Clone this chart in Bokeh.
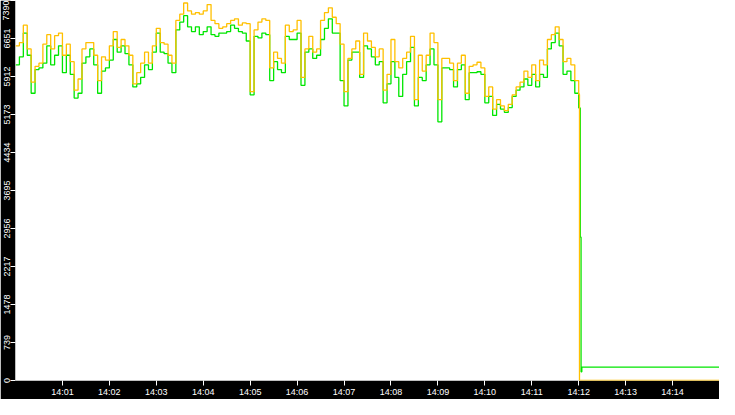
import pandas as pd
from bokeh.plotting import figure, ColumnDataSource
from bokeh.models import Range1d, FixedTicker, DatetimeTickFormatter
from bokeh.embed import file_html
from bokeh.resources import INLINE

day = "2024-01-01 "

# price every 5 seconds from 14:00:00 to 14:12:00
ask = [
    6509, 6571, 6910, 6448, 5801, 6109, 6171, 6540, 6725, 6448,
    6706, 6756, 6325, 6540, 6201, 5647, 5863, 6448, 6571, 6571,
    6325, 5832, 6294, 6232, 6509, 6786, 6478, 6632, 6509, 6325,
    5770, 5986, 6171, 6386, 6171, 6509, 6848, 6571, 6540, 6325,
    6171, 7002, 7125, 7341, 7187, 7125, 7156, 7125, 7187, 7310,
    7002, 6940, 6848, 6879, 6940, 7002, 7033, 6910, 6953, 6940,
    5616, 6817, 6971, 7033, 7002, 6078, 6386, 6263, 6171, 6910,
    6786, 6817, 7002, 5894, 6448, 6694, 6386, 6448, 7002, 7156,
    7248, 7064, 6940, 6540, 5616, 6263, 6448, 6602, 5955, 6756,
    6602, 6478, 6294, 6448, 5647, 5955, 6632, 6201, 6078, 6263,
    6386, 6694, 5462, 6325, 6017, 6325, 6756, 6571, 5462, 6263,
    6263, 6171, 5832, 6171, 6325, 5586, 6109, 6140, 6189, 6078,
    5524, 5709, 5278, 5462, 5339, 5247, 5370, 5555, 5709, 5801,
    6017, 5894, 6140, 5832, 6232, 6140, 6632, 6725, 6879, 6632,
    6201, 6263, 6140, 5832, 5560,
]
bid = [
    6140, 6294, 6756, 6325, 5586, 6047, 6078, 6171, 6509, 6140,
    6325, 6509, 5986, 6325, 5955, 5493, 5586, 6171, 6294, 6448,
    6140, 5586, 6017, 6078, 6232, 6632, 6386, 6509, 6355, 6140,
    5709, 5770, 5894, 6140, 6047, 6386, 6756, 6386, 6355, 6171,
    5986, 6817, 6971, 7094, 6879, 6786, 6879, 6725, 6786, 6879,
    6725, 6694, 6756, 6756, 6786, 6910, 6848, 6786, 6756, 6602,
    5555, 6694, 6663, 6756, 6725, 5832, 6201, 6047, 5986, 6694,
    6632, 6632, 6756, 5740, 6386, 6448, 6263, 6325, 6632, 6848,
    7033, 6756, 6756, 5832, 5339, 6232, 6386, 6386, 5894, 6509,
    6448, 6294, 6140, 6201, 5401, 5770, 6201, 5894, 5524, 5955,
    6201, 6478, 5339, 5894, 5832, 6140, 6448, 6140, 5031, 6078,
    6078, 6047, 5709, 6047, 6140, 5462, 5986, 5986, 6004, 5955,
    5401, 5524, 5155, 5370, 5278, 5216, 5308, 5524, 5647, 5709,
    5863, 5740, 5955, 5709, 5955, 5894, 6448, 6571, 6756, 6509,
    5955, 6017, 5832, 5586, 5300,
]

# after the crash
tail_times = ["14:12:01", "14:12:02", "14:12:03", "14:12:04", "14:15:00"]
ask_tail = [0, 0, 0, 0, 0]
bid_tail = [5300, 2790, 170, 260, 260]

y_ticks = [0, 739, 1478, 2217, 2956, 3695, 4434, 5173, 5912, 6651, 7390]
x_ticks = ["14:01", "14:02", "14:03", "14:04", "14:05", "14:06", "14:07",
           "14:08", "14:09", "14:10", "14:11", "14:12", "14:13", "14:14"]

times = list(pd.date_range(day + "14:00:00", day + "14:12:00", freq="5s"))
times += [pd.Timestamp(day + t) for t in tail_times]
source = ColumnDataSource(dict(t=times, ask=ask + ask_tail, bid=bid + bid_tail))

p = figure(
    width=719, height=399,
    x_axis_type="datetime",
    x_range=Range1d(pd.Timestamp(day + "14:00:00"), pd.Timestamp(day + "14:15:00")),
    y_range=Range1d(0, 7390),
    output_backend="svg", toolbar_location=None,
    min_border_left=0, min_border_right=0, min_border_top=0, min_border_bottom=0,
)
p.border_fill_color = "black"
p.background_fill_color = "white"
p.outline_line_color = None
p.grid.visible = False

p.xaxis.ticker = FixedTicker(ticks=[pd.Timestamp(day + t).value // 10**6 for t in x_ticks])
p.xaxis.formatter = DatetimeTickFormatter(minutes="%H:%M", hours="%H:%M",
                                          minsec="%H:%M", seconds="%H:%M")
p.yaxis.ticker = FixedTicker(ticks=y_ticks)
p.yaxis.major_label_orientation = "vertical"

for ax in (p.xaxis, p.yaxis):
    ax.axis_line_color = None
    ax.major_tick_line_color = "white"
    ax.major_tick_out = 5
    ax.major_tick_in = 0
    ax.minor_tick_line_color = None
    ax.major_label_text_color = "white"
    ax.major_label_text_font = "Liberation Sans"
    ax.major_label_text_font_size = "9px"
    ax.major_label_standoff = 1

p.step("t", "bid", source=source, mode="after", line_color="#00e600", line_width=1.3)
p.step("t", "ask", source=source, mode="after", line_color="#ffc000", line_width=1.3)

open("out.html", "w").write(file_html(p, INLINE))
